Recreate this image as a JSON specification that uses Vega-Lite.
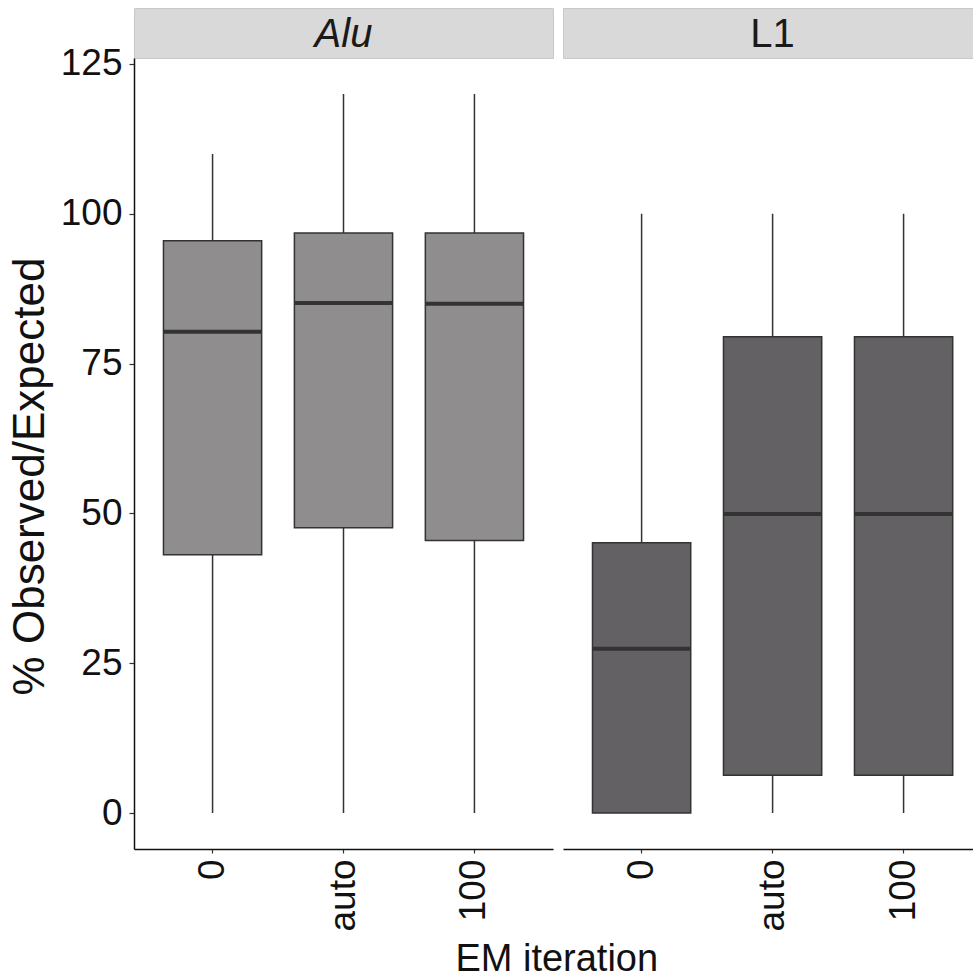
{
  "$schema": "https://vega.github.io/schema/vega-lite/v6.json",
  "padding": {"left": 8, "top": 7, "right": 0, "bottom": 0},
  "background": "white",
  "title": {"text": "EM iteration", "orient": "bottom", "anchor": "middle", "fontSize": 38, "fontWeight": "normal", "color": "#111111", "font": "Liberation Sans", "offset": 10, "dx": 66},
  "datasets": {
    "boxes": [
      {"element": "Alu", "iteration": "0", "lower": 0, "q1": 43.1, "median": 80.3, "q3": 95.5, "upper": 110},
      {"element": "Alu", "iteration": "auto", "lower": 0, "q1": 47.6, "median": 85.1, "q3": 96.8, "upper": 120},
      {"element": "Alu", "iteration": "100", "lower": 0, "q1": 45.5, "median": 85.0, "q3": 96.8, "upper": 120},
      {"element": "L1", "iteration": "0", "lower": 0, "q1": 0, "median": 27.4, "q3": 45.1, "upper": 100},
      {"element": "L1", "iteration": "auto", "lower": 0, "q1": 6.3, "median": 49.9, "q3": 79.5, "upper": 100},
      {"element": "L1", "iteration": "100", "lower": 0, "q1": 6.3, "median": 49.9, "q3": 79.5, "upper": 100}
    ],
    "strips": [
      {"element": "Alu"},
      {"element": "L1"}
    ]
  },
  "config": {
    "font": "Liberation Sans",
    "view": {"stroke": null},
    "axis": {"grid": false}
  },
  "spacing": 8,
  "resolve": {"scale": {"x": "independent", "y": "independent", "color": "independent"}},
  "hconcat": [
    {
      "bounds": "flush",
      "spacing": 0,
      "vconcat": [
        {
          "width": 419,
          "height": 50,
          "view": {"fill": "#d9d9d9", "stroke": "#c8c8c8", "strokeWidth": 1},
          "data": {"name": "strips"},
          "transform": [{"filter": "datum.element === 'Alu'"}],
          "mark": {"type": "text", "fontSize": 40, "fontStyle": "italic", "baseline": "alphabetic", "dy": 14, "color": "#1a1a1a", "font": "Liberation Sans"},
          "encoding": {"text": {"field": "element"}}
        },
        {
          "width": 419,
          "height": 791,
          "data": {"name": "boxes"},
          "transform": [{"filter": "datum.element === 'Alu'"}],
          "encoding": {
            "x": {
              "field": "iteration", "type": "nominal", "sort": ["0", "auto", "100"],
              "scale": {"type": "band", "paddingInner": 0, "paddingOuter": 0.1},
              "axis": {
                "title": null,
                "labelAngle": 270, "labelFontSize": 37, "labelColor": "#111111", "labelPadding": 6,
                "tickSize": 4, "tickColor": "#333333", "tickWidth": 1.2,
                "domainColor": "#111111", "domainWidth": 1.5
              }
            }
          },
          "layer": [
            {
              "mark": {"type": "rule", "color": "#333333", "strokeWidth": 1.5},
              "encoding": {
                "y": {
                  "field": "lower", "type": "quantitative",
                  "scale": {"domain": [-6, 126], "nice": false, "zero": false},
                  "axis": {
                    "title": "% Observed/Expected", "titleFontSize": 44, "titleFontWeight": "normal", "titleColor": "#111111",
                    "titleX": -91, "titleY": 418, "titleBaseline": "alphabetic", "titleAlign": "center", "titleAngle": 270,
                    "values": [0, 25, 50, 75, 100, 125], "labelFontSize": 37, "labelColor": "#111111", "labelPadding": 7,
                    "tickSize": 5, "tickColor": "#333333", "tickWidth": 1.2,
                    "domainColor": "#111111", "domainWidth": 1.5
                  }
                },
                "y2": {"field": "upper"}
              }
            },
            {
              "mark": {"type": "bar", "width": {"band": 0.75}, "stroke": "#333333", "strokeWidth": 1.5, "opacity": 1},
              "encoding": {
                "y": {"field": "q1", "type": "quantitative"},
                "y2": {"field": "q3"},
                "color": {"field": "element", "type": "nominal", "scale": {"domain": ["Alu", "L1"], "range": ["#8f8d8e", "#636163"]}, "legend": null}
              }
            },
            {
              "mark": {"type": "tick", "size": 98, "thickness": 4, "color": "#333333", "opacity": 1},
              "encoding": {
                "y": {"field": "median", "type": "quantitative"}
              }
            }
          ]
        }
      ]
    },
    {
      "bounds": "flush",
      "spacing": 0,
      "vconcat": [
        {
          "width": 410,
          "height": 50,
          "view": {"fill": "#d9d9d9", "stroke": "#c8c8c8", "strokeWidth": 1},
          "data": {"name": "strips"},
          "transform": [{"filter": "datum.element === 'L1'"}],
          "mark": {"type": "text", "fontSize": 40, "baseline": "alphabetic", "dy": 14, "dx": 4.5, "color": "#1a1a1a", "font": "Liberation Sans"},
          "encoding": {"text": {"field": "element"}}
        },
        {
          "width": 410,
          "height": 791,
          "data": {"name": "boxes"},
          "transform": [{"filter": "datum.element === 'L1'"}],
          "encoding": {
            "x": {
              "field": "iteration", "type": "nominal", "sort": ["0", "auto", "100"],
              "scale": {"type": "band", "paddingInner": 0, "paddingOuter": 0.065, "align": 0.77},
              "axis": {
                "title": null,
                "labelAngle": 270, "labelFontSize": 37, "labelColor": "#111111", "labelPadding": 6,
                "tickSize": 4, "tickColor": "#333333", "tickWidth": 1.2,
                "domainColor": "#111111", "domainWidth": 1.5
              }
            }
          },
          "layer": [
            {
              "mark": {"type": "rule", "color": "#333333", "strokeWidth": 1.5},
              "encoding": {
                "y": {
                  "field": "lower", "type": "quantitative",
                  "scale": {"domain": [-6, 126], "nice": false, "zero": false},
                  "axis": null
                },
                "y2": {"field": "upper"}
              }
            },
            {
              "mark": {"type": "bar", "width": {"band": 0.75}, "stroke": "#333333", "strokeWidth": 1.5, "opacity": 1},
              "encoding": {
                "y": {"field": "q1", "type": "quantitative"},
                "y2": {"field": "q3"},
                "color": {"field": "element", "type": "nominal", "scale": {"domain": ["Alu", "L1"], "range": ["#8f8d8e", "#636163"]}, "legend": null}
              }
            },
            {
              "mark": {"type": "tick", "size": 98, "thickness": 4, "color": "#333333", "opacity": 1},
              "encoding": {
                "y": {"field": "median", "type": "quantitative"}
              }
            }
          ]
        }
      ]
    }
  ]
}
